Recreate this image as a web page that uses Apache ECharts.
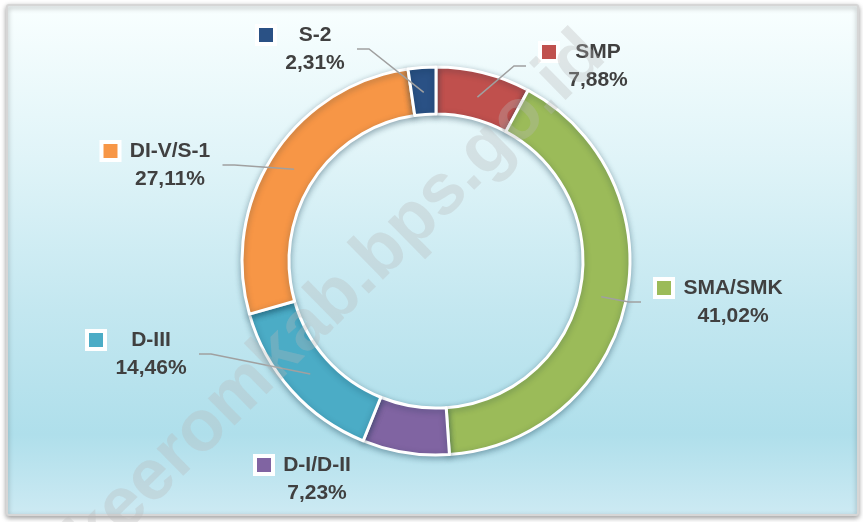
<!DOCTYPE html>
<html><head><meta charset="utf-8">
<script src="https://cdn.jsdelivr.net/npm/echarts@6/dist/echarts.min.js"></script>
<style>html,body{margin:0;padding:0;background:#fff}#c{width:863px;height:522px}</style>
</head><body><div id="c"></div>
<script>
// ---- data ----
const categories = ['SMP', 'SMA/SMK', 'D-I/D-II', 'D-III', 'DI-V/S-1', 'S-2'];
const values = [7.88, 41.02, 7.23, 14.46, 27.11, 2.31];
const colors = ['#c0504d', '#9bbb59', '#8064a2', '#4bacc6', '#f79646', '#2a5185'];
// label layout: [text centre x, block middle y, side of the line ('r' label right of line, 'l' left, 'n' no line)]
const labelPos = [[598, 66, 'r'], [733, 302, 'r'], [317, 479, 'n'], [151, 354, 'l'], [170, 165, 'l'], [315, 49, 'l']];

const fmt = v => v.toFixed(2).replace('.', ',') + '%';
const FONT = "'Liberation Sans', Arial, sans-serif";
const FS = 21;
const ctx = document.createElement('canvas').getContext('2d');
ctx.font = 'bold ' + FS + 'px ' + FONT;
const W = categories.map((c, i) => Math.ceil(Math.max(ctx.measureText(c).width, ctx.measureText(fmt(values[i])).width)));

const txt = {fontFamily: FONT, fontSize: FS, fontWeight: 'bold', color: '#404040', lineHeight: 28};

const chart = echarts.init(document.getElementById('c'), null, {renderer: 'canvas'});
chart.setOption({
  backgroundColor: '#ffffff',
  animation: false,
  graphic: [
    {type: 'rect', z: -10, shape: {x: 7, y: 5, width: 851, height: 510, r: 2},
     style: {fill: new echarts.graphic.LinearGradient(0, 0, 0, 1, [
        {offset: 0, color: '#f9ffff'}, {offset: 0.3, color: '#e0f4f8'},
        {offset: 0.6, color: '#c3e7f0'}, {offset: 0.84, color: '#afdfeb'}, {offset: 1, color: '#cdeaf3'}]),
       stroke: '#d6d6d6', lineWidth: 2,
       shadowColor: 'rgba(0,0,0,0.35)', shadowBlur: 5, shadowOffsetX: 0, shadowOffsetY: 2}},
    {type: 'text', z: 100, x: 337, y: 297, rotation: Math.PI * 44.5 / 180,
     style: {text: 'keeromkab.bps.go.id', font: 'bold 72px ' + FONT, fill: 'rgba(185,185,185,0.32)',
       textAlign: 'center', textVerticalAlign: 'middle'}}
  ],
  series: [
    {
      type: 'pie', silent: true, z: 2, center: [436, 261], radius: [147, 194], startAngle: 90, clockwise: true,
      label: {show: false}, labelLine: {show: false},
      itemStyle: {borderColor: '#ffffff', borderWidth: 3,
        shadowColor: 'rgba(0,40,60,0.35)', shadowBlur: 6, shadowOffsetY: 2},
      data: categories.map((c, i) => ({name: c, value: values[i], itemStyle: {color: colors[i]}}))
    },
    {
      type: 'pie', silent: true, z: 5, center: [436, 261], radius: [147, 169], startAngle: 90, clockwise: true,
      avoidLabelOverlap: false,
      itemStyle: {color: 'rgba(0,0,0,0)'},
      label: {show: true, position: 'outside', alignTo: 'none'},
      labelLine: {show: true, length: 10, length2: 10, smooth: false, lineStyle: {color: '#a0a0a0', width: 1.5}},
      labelLayout: function (p) {
        const lp = labelPos[p.dataIndex];
        const w = p.labelRect.width;
        const cx = lp[0] - 13, cy = lp[1];
        const res = {x: cx, y: cy, align: 'center', verticalAlign: 'middle'};
        if (p.labelLinePoints && lp[2] !== 'n') {
          const s = p.labelLinePoints[0];
          const ex = lp[2] === 'r' ? cx - w / 2 - 14 : cx + w / 2 + 10;
          const bx = lp[2] === 'r' ? ex - 12 : ex + 12;
          res.labelLinePoints = [[s[0], s[1]], [bx, cy], [ex, cy]];
        }
        return res;
      },
      data: categories.map((c, i) => ({
        name: c, value: values[i],
        labelLine: {show: labelPos[i][2] !== 'n'},
        label: {
          formatter: '{m|}{g|}{b|' + c + '}\n{s|}{p|' + fmt(values[i]) + '}',
          rich: {
            m: {width: 14, height: 14, backgroundColor: colors[i], borderColor: '#ffffff', borderWidth: 4, lineHeight: 28},
            g: {width: 12, lineHeight: 28},
            s: {width: 26, lineHeight: 28},
            b: Object.assign({width: W[i], align: 'center'}, txt),
            p: Object.assign({width: W[i], align: 'center'}, txt)
          }
        }
      }))
    }
  ]
});
</script>
</body></html>
